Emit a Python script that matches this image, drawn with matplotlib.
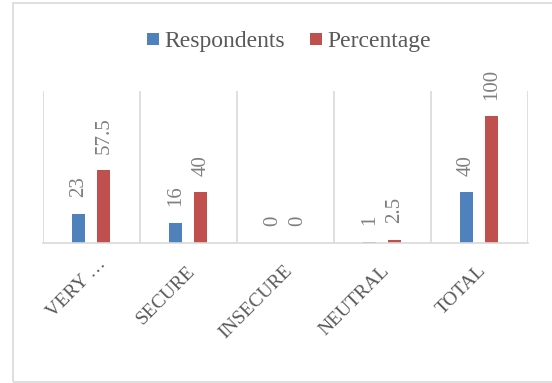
import matplotlib
matplotlib.use("Agg")
import matplotlib.pyplot as plt
from matplotlib.patches import Rectangle
from matplotlib.transforms import ScaledTranslation
import numpy as np

categories = ["VERY …", "SECURE", "INSECURE", "NEUTRAL", "TOTAL"]
respondents = [23, 16, 0, 1, 40]
percentage = [57.5, 40, 0, 2.5, 100]
respondent_labels = ["23", "16", "0", "1", "40"]
percentage_labels = ["57.5", "40", "0", "2.5", "100"]

W, H = 552, 383
fig = plt.figure(figsize=(W / 100, H / 100), dpi=100)
fig.patch.set_facecolor("white")

# outer chart border
fig.patches.append(Rectangle((12.5 / W, 1 - 381.5 / H), (560 - 12.5) / W, (381.5 - 3) / H,
                             transform=fig.transFigure, fill=False,
                             edgecolor="#d9d9d9", linewidth=1.2))

left, right, top, base = 42.7, 527.7, 91, 243
ax = fig.add_axes([left / W, 1 - base / H, (right - left) / W, (base - top) / H])

serif = ["Liberation Serif", "DejaVu Serif"]
blue = "#4F81BD"
red = "#C0504D"

x = np.arange(len(categories))
bw = 0.134
off = 0.131
b1 = ax.bar(x - off, respondents, bw, color=blue, label="Respondents")
b2 = ax.bar(x + off, percentage, bw, color=red, label="Percentage")

for xi, v, lab in zip(x - off, respondents, respondent_labels):
    ax.annotate(lab, (xi, v), xytext=(0, 12), textcoords="offset points",
                rotation=90, ha="center", va="bottom", fontsize=15,
                family=serif, color="#7f7f7f")
for xi, v, lab in zip(x + off, percentage, percentage_labels):
    ax.annotate(lab, (xi, v), xytext=(0, 12), textcoords="offset points",
                rotation=90, ha="center", va="bottom", fontsize=15,
                family=serif, color="#7f7f7f", annotation_clip=False)

ax.set_xlim(-0.5, len(categories) - 0.5)
ax.set_ylim(0, 120)
for b in np.arange(-0.5, len(categories), 1.0):
    ax.axvline(b, color="#d9d9d9", linewidth=1.2, zorder=0)
for s in ["top", "left", "right"]:
    ax.spines[s].set_visible(False)
ax.spines["bottom"].set_color("#d9d9d9")
ax.spines["bottom"].set_linewidth(1.2)
ax.set_yticks([])
ax.set_xticks(x)
ax.set_xticklabels(categories, rotation=45, ha="right", va="top",
                   rotation_mode="anchor", fontsize=14, family=serif,
                   color="#595959")
ax.tick_params(axis="x", length=0, pad=14)
ax.patch.set_visible(False)

for i, t in enumerate(ax.get_xticklabels()):
    dx, dy = (6, 7) if i == 0 else (-2, 0)
    t.set_transform(t.get_transform() + ScaledTranslation(dx / 100, dy / 100, fig.dpi_scale_trans))

fs = 17
fig.legend(handles=[b1, b2], labels=["Respondents", "Percentage"],
           loc="center", bbox_to_anchor=(289 / W, 1 - 42 / H), ncol=2,
           frameon=False, prop={"family": serif, "size": fs},
           labelcolor="#595959", handlelength=0.5, handleheight=0.42,
           handletextpad=0.22, columnspacing=1.1, borderaxespad=0)

fig.savefig("out.png", dpi=100)
